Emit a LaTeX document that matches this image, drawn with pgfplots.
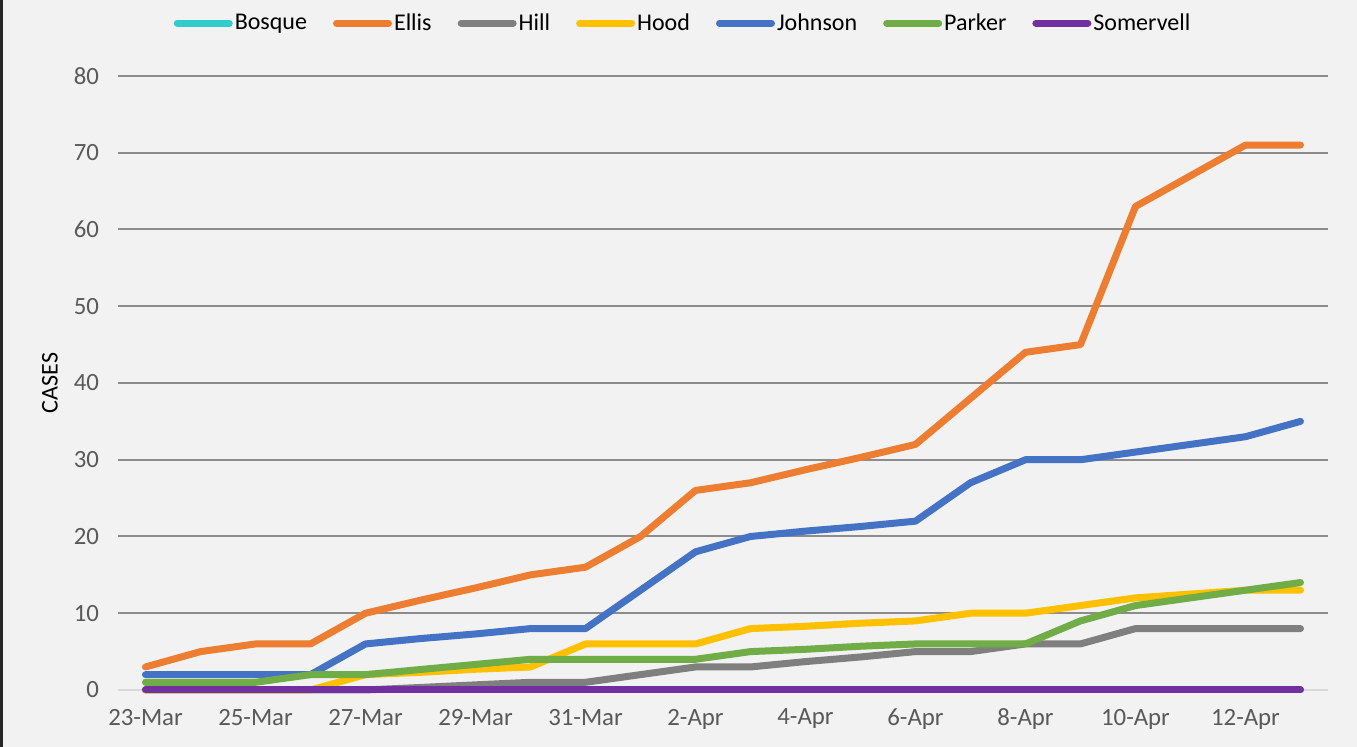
\documentclass[border=0pt]{standalone}
\usepackage{pgfplots}
\pgfplotsset{compat=1.18}
\usepackage{fontspec}
\setmainfont{Carlito}
\definecolor{bg}{HTML}{F2F2F2}
\definecolor{cBosque}{HTML}{33CCCC}
\definecolor{cEllis}{HTML}{ED7D31}
\definecolor{cHill}{HTML}{7F7F7F}
\definecolor{cHood}{HTML}{FFC000}
\definecolor{cJohnson}{HTML}{4472C4}
\definecolor{cParker}{HTML}{70AD47}
\definecolor{cSomervell}{HTML}{7030A0}
\definecolor{gridc}{HTML}{8C8C8C}
\definecolor{tickc}{HTML}{595959}
\begin{document}
\begin{tikzpicture}
\fill[bg] (-59pt,-28.5pt) rectangle (619.5pt,345pt);
\useasboundingbox (-59pt,-28.5pt) rectangle (619.5pt,345pt);
\draw[line width=1.5pt,black!85] (-58.25pt,-28.5pt) -- (-58.25pt,345pt);
\begin{axis}[
  at={(0pt,0pt)}, anchor=south west,
  scale only axis,
  width=605pt, height=307pt,
  xmin=-0.5, xmax=21.5, ymin=0, ymax=80,
  axis line style={draw=none},
  xtick={0,2,...,20},
  xticklabels={23-Mar,25-Mar,27-Mar,29-Mar,31-Mar,2-Apr,4-Apr,6-Apr,8-Apr,10-Apr,12-Apr},
  ytick={0,10,...,80},
  major tick length=0pt,
  ymajorgrids,
  grid style={draw=gridc, line width=1pt},
  extra y ticks={0},
  extra y tick style={grid style={draw=black!15,line width=1pt}, ticklabel style={opacity=0}},
  tick label style={font=\fontsize{12.4}{14}\selectfont, text=tickc},
  /pgf/number format/assume math mode=true,
  xticklabel style={yshift=-6pt},
  yticklabel style={xshift=-6pt},
  ylabel={CASES},
  ylabel style={font=\fontsize{12}{14}\selectfont, at={(axis description cs:-0.0562,0.5)}, anchor=center},
  legend columns=7,
  legend cell align=left,
  legend style={draw=none, fill=none, at={(axis description cs:0.467,1.086)}, anchor=center,
    font=\fontsize{12}{14}\selectfont,
    nodes={inner xsep=1pt},
    /tikz/every even column/.append style={column sep=12pt},
    /tikz/every odd column/.append style={column sep=0pt}},
  legend image code/.code={\draw[#1, line cap=round] (1.5pt,0pt) -- (27.5pt,0pt);},
  every axis plot/.append style={line width=3.5pt, line join=round, line cap=round, mark=none},
  clip=false,
]
\addplot[cBosque] coordinates {(0,0)(1,0)(2,0)(3,0)(4,0)(5,0)(6,0)(7,0)(8,0)(9,0)(10,0)(11,0)(12,0)(13,0)(14,0)(15,0)(16,0)(17,0)(18,0)(19,0)(20,0)(21,0)};
\addlegendentry{Bosque}
\addplot[cEllis] coordinates {(0,3)(1,5)(2,6)(3,6)(4,10)(5,11.7)(6,13.3)(7,15)(8,16)(9,20)(10,26)(11,27)(12,28.7)(13,30.3)(14,32)(15,38)(16,44)(17,45)(18,63)(19,67)(20,71)(21,71)};
\addlegendentry{Ellis}
\addplot[cHill] coordinates {(0,0)(1,0)(2,0)(3,0)(4,0)(5,0.33)(6,0.67)(7,1)(8,1)(9,2)(10,3)(11,3)(12,3.7)(13,4.3)(14,5)(15,5)(16,6)(17,6)(18,8)(19,8)(20,8)(21,8)};
\addlegendentry{Hill}
\addplot[cHood] coordinates {(0,0)(1,0)(2,0)(3,0)(4,2)(5,2.3)(6,2.7)(7,3)(8,6)(9,6)(10,6)(11,8)(12,8.3)(13,8.7)(14,9)(15,10)(16,10)(17,11)(18,12)(19,12.5)(20,13)(21,13)};
\addlegendentry{Hood}
\addplot[cJohnson] coordinates {(0,2)(1,2)(2,2)(3,2)(4,6)(5,6.7)(6,7.3)(7,8)(8,8)(9,13)(10,18)(11,20)(12,20.7)(13,21.3)(14,22)(15,27)(16,30)(17,30)(18,31)(19,32)(20,33)(21,35)};
\addlegendentry{Johnson}
\addplot[cParker] coordinates {(0,1)(1,1)(2,1)(3,2)(4,2)(5,2.67)(6,3.33)(7,4)(8,4)(9,4)(10,4)(11,5)(12,5.3)(13,5.7)(14,6)(15,6)(16,6)(17,9)(18,11)(19,12)(20,13)(21,14)};
\addlegendentry{Parker}
\addplot[cSomervell] coordinates {(0,0)(1,0)(2,0)(3,0)(4,0)(5,0)(6,0)(7,0)(8,0)(9,0)(10,0)(11,0)(12,0)(13,0)(14,0)(15,0)(16,0)(17,0)(18,0)(19,0)(20,0)(21,0)};
\addlegendentry{Somervell}
\end{axis}
\end{tikzpicture}
\end{document}
